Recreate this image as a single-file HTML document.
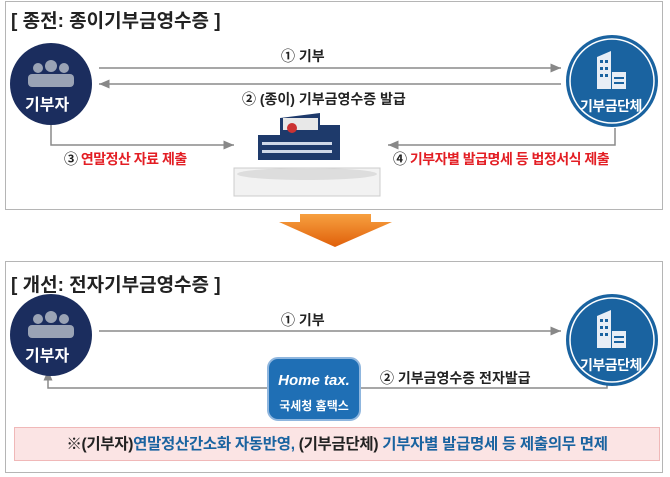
<!DOCTYPE html>
<html><head><meta charset="utf-8"><style>
body{margin:0;width:670px;height:477px;background:#fff;position:relative;overflow:hidden;font-family:"Liberation Sans","Noto Sans CJK KR",sans-serif;}
.a{position:absolute;white-space:nowrap;}
.box{position:absolute;border:1.5px solid #b5b5b5;}
.t{font-weight:bold;font-size:19px;color:#222;}
.lbl{font-weight:bold;font-size:14px;color:#222;}
.red{color:#e31e24;font-weight:bold;font-size:14px;letter-spacing:-0.5px}
</style></head><body>
<div class="box" style="left:5px;top:1px;width:656px;height:207px"></div>
<div class="box" style="left:5px;top:261px;width:656px;height:210px"></div>
<div class="a t" style="left:11px;top:6px">[ 종전: 종이기부금영수증 ]</div>
<div class="a t" style="left:11px;top:270px">[ 개선: 전자기부금영수증 ]</div>
<svg class="a" style="left:0;top:0" width="670" height="477">
<defs><marker id="m" markerWidth="8" markerHeight="8" refX="7" refY="4" orient="auto"><path d="M0,1 L7,4 L0,7z" fill="#888"/></marker>
<linearGradient id="og" x1="0" y1="0" x2="0" y2="1"><stop offset="0" stop-color="#f7a040"/><stop offset="1" stop-color="#e0600a"/></linearGradient></defs>
<g stroke="#8a8a8a" stroke-width="1.5" fill="none">
<line x1="99" y1="68" x2="561" y2="68" marker-end="url(#m)"/>
<line x1="561" y1="84" x2="99" y2="84" marker-end="url(#m)"/>
<polyline points="51,125 51,145 234,145" marker-end="url(#m)"/>
<polyline points="615,128 615,145 388,145" marker-end="url(#m)"/>
<line x1="99" y1="331" x2="561" y2="331" marker-end="url(#m)"/>
<polyline points="607,377 607,388 48,388 48,370" marker-end="url(#m)"/>
</g>
<path d="M279,222 H392 L335,247z M300,214 h71 v10 h-71z" fill="url(#og)"/>
<circle cx="51" cy="84" r="41" fill="#1b2d5e"/>
<circle cx="51" cy="335" r="41" fill="#1b2d5e"/>
<g fill="#9aa3b5"><circle cx="38" cy="68" r="5"/><circle cx="64" cy="68" r="5"/><circle cx="51" cy="66" r="6"/><rect x="28" y="74" width="46" height="13" rx="4"/>
<circle cx="38" cy="319" r="5"/><circle cx="64" cy="319" r="5"/><circle cx="51" cy="317" r="6"/><rect x="28" y="325" width="46" height="13" rx="4"/></g>
<circle cx="612" cy="81" r="46" fill="#1a63a0"/><circle cx="612" cy="81" r="42" fill="none" stroke="#fff" stroke-width="1.5"/>
<circle cx="612" cy="340" r="46" fill="#1a63a0"/><circle cx="612" cy="340" r="42" fill="none" stroke="#fff" stroke-width="1.5"/>
<g fill="#e8eef6"><path d="M597,57 l14,-6 v38 h-14z M612,72 h14 v17 h-14z"/><path d="M597,316 l14,-6 v38 h-14z M612,331 h14 v17 h-14z"/></g>
<g fill="#1a63a0"><rect x="600" y="60" width="3" height="3"/><rect x="605" y="60" width="3" height="3"/><rect x="600" y="67" width="3" height="3"/><rect x="605" y="67" width="3" height="3"/><rect x="600" y="74" width="3" height="3"/><rect x="605" y="74" width="3" height="3"/><rect x="614" y="77" width="10" height="2"/><rect x="614" y="82" width="10" height="2"/>
<rect x="600" y="319" width="3" height="3"/><rect x="605" y="319" width="3" height="3"/><rect x="600" y="326" width="3" height="3"/><rect x="605" y="326" width="3" height="3"/><rect x="600" y="333" width="3" height="3"/><rect x="605" y="333" width="3" height="3"/><rect x="614" y="336" width="10" height="2"/><rect x="614" y="341" width="10" height="2"/></g>
<rect x="234" y="168" width="146" height="28" fill="#f2f2f2" stroke="#ccc"/>
<ellipse cx="307" cy="174" rx="70" ry="6" fill="#ddd"/>
<path d="M258,160 V135 h22 V118 l40,-5 v12 h20 v35z" fill="#1e3a6b"/>
<rect x="283" y="118" width="35" height="12" fill="#e8e8e8"/>
<circle cx="292" cy="128" r="5" fill="#c33"/>
<g fill="#cfd8e8"><rect x="262" y="142" width="70" height="3"/><rect x="262" y="150" width="70" height="3"/></g>
<rect x="268" y="358" width="92" height="62" rx="10" fill="#1f6fb5" stroke="#8fb6de" stroke-width="2"/>
</svg>
<div class="a" style="left:25px;top:91px;color:#fff;font-weight:bold;font-size:16px">기부자</div>
<div class="a" style="left:25px;top:342px;color:#fff;font-weight:bold;font-size:16px">기부자</div>
<div class="a" style="left:580px;top:96px;color:#fff;font-weight:bold;font-size:14px;letter-spacing:-0.5px">기부금단체</div>
<div class="a" style="left:580px;top:355px;color:#fff;font-weight:bold;font-size:14px;letter-spacing:-0.5px">기부금단체</div>
<div class="a lbl" style="left:281px;top:46px">① 기부</div>
<div class="a lbl" style="left:242px;top:89px">② (종이) 기부금영수증 발급</div>
<div class="a red" style="left:64px;top:149px"><span style="color:#222">③</span> 연말정산 자료 제출</div>
<div class="a red" style="left:393px;top:149px"><span style="color:#222">④</span> 기부자별 발급명세 등 법정서식 제출</div>
<div class="a lbl" style="left:281px;top:310px">① 기부</div>
<div class="a lbl" style="left:380px;top:368px">② 기부금영수증 전자발급</div>
<div class="a" style="left:268px;top:372px;width:92px;text-align:center;color:#fff;font-weight:bold;font-size:15px;font-style:italic">Home tax.</div>
<div class="a" style="left:268px;top:397px;width:92px;text-align:center;color:#fff;font-weight:bold;font-size:12px">국세청 홈택스</div>
<div class="a" style="left:14px;top:427px;width:644px;height:32px;background:#fbe4e4;border:1px solid #f0b8b8"></div>
<div class="a" style="left:14px;top:432px;width:646px;text-align:center;font-size:15.5px;color:#1a63a0;font-weight:bold;letter-spacing:-0.3px"><span style="color:#222">※(기부자)</span>연말정산간소화 자동반영, <span style="color:#222">(기부금단체)</span> 기부자별 발급명세 등 제출의무 면제</div>
</body></html>
